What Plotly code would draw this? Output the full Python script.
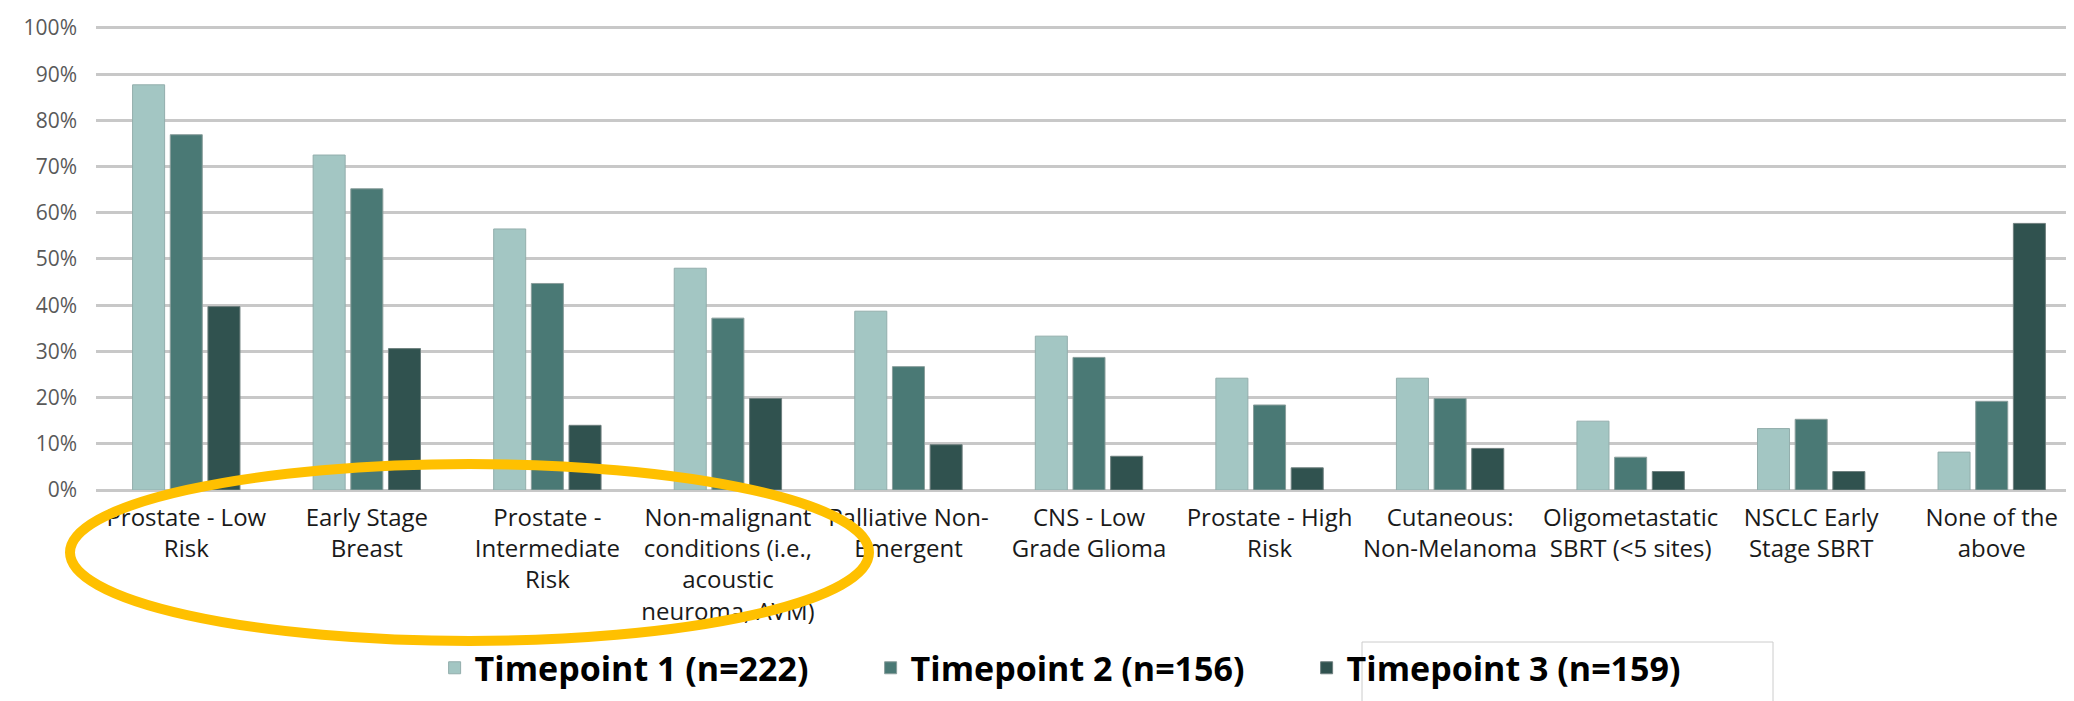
import plotly.graph_objects as go

categories = [
    "Prostate - Low<br>Risk",
    "Early Stage<br>Breast",
    "Prostate -<br>Intermediate<br>Risk",
    "Non-malignant<br>conditions (i.e.,<br>acoustic<br>neuroma, AVM)",
    "Palliative Non-<br>Emergent",
    "CNS - Low<br>Grade Glioma",
    "Prostate - High<br>Risk",
    "Cutaneous:<br>Non-Melanoma",
    "Oligometastatic<br>SBRT (&lt;5 sites)",
    "NSCLC Early<br>Stage SBRT",
    "None of the<br>above",
]

series_names = ["Timepoint 1 (n=222)", "Timepoint 2 (n=156)", "Timepoint 3 (n=159)"]
timepoint1 = [0.877, 0.725, 0.565, 0.480, 0.387, 0.333, 0.242, 0.242, 0.149, 0.133, 0.082]
timepoint2 = [0.769, 0.652, 0.447, 0.372, 0.267, 0.287, 0.184, 0.198, 0.071, 0.153, 0.192]
timepoint3 = [0.397, 0.306, 0.140, 0.198, 0.098, 0.073, 0.048, 0.090, 0.040, 0.040, 0.577]

ytick_vals = [0, 0.1, 0.2, 0.3, 0.4, 0.5, 0.6, 0.7, 0.8, 0.9, 1.0]
ytick_text = ["0%", "10%", "20%", "30%", "40%", "50%", "60%", "70%", "80%", "90%", "100%"]

colors = ["#A3C6C3", "#4A7975", "#30524F"]
edge = ["#93AEAC", "#8A9E9C", "#6E7F7E"]

W, H = 2074, 701
ML, MR, MT, MB = 88, 0, 18, 219

fig = go.Figure()
for name, vals, c, e in zip(series_names, [timepoint1, timepoint2, timepoint3], colors, edge):
    fig.add_trace(go.Bar(
        x=categories, y=vals, name=name,
        marker=dict(color=c, line=dict(color=e, width=1)),
    ))

fig.update_layout(
    width=W, height=H,
    margin=dict(l=ML, r=MR, t=MT, b=MB),
    paper_bgcolor="white", plot_bgcolor="white",
    barmode="group", bargap=0.374, bargroupgap=0.15,
    font=dict(family="Open Sans, Noto Sans, sans-serif"),
    showlegend=True,
    legend=dict(
        orientation="h", x=0.1705, xanchor="left", y=-0.384, yanchor="middle",
        font=dict(size=34, color="#000000", weight="bold"),
        entrywidth=391, entrywidthmode="pixels",
        bgcolor="rgba(0,0,0,0)",
    ),
)

fig.update_yaxes(
    range=[0, 1.0043], tickvals=ytick_vals, ticktext=ytick_text,
    showgrid=True, gridcolor="#C8C8C8", gridwidth=3,
    zeroline=True, zerolinecolor="#C8C8C8", zerolinewidth=3,
    tickfont=dict(size=21, color="#595959"), ticklabelstandoff=18,
    showline=False, ticks="",
)
fig.update_xaxes(
    tickfont=dict(size=24, color="#1A1A1A"), ticklabelstandoff=11,
    showgrid=False, showline=False, ticks="",
)

# highlight ellipse (pixel geometry relative to plot bottom-left)
fig.add_shape(
    type="circle", xref="paper", yref="paper",
    xsizemode="pixel", ysizemode="pixel", xanchor=0, yanchor=0,
    x0=62 - ML, x1=861 - ML, y0=-(633 - (H - MB)), y1=-(456 - (H - MB)),
    line=dict(color="#FFC000", width=10), layer="above",
)
# thin grey text-box outline behind legend
fig.add_shape(
    type="rect", xref="paper", yref="paper",
    xsizemode="pixel", ysizemode="pixel", xanchor=0, yanchor=0,
    x0=1354 - ML, x1=1765 - ML, y0=-(720 - (H - MB)), y1=-(634 - (H - MB)),
    line=dict(color="#CCCCCC", width=1), layer="below",
)

fig.write_html("out.html")
